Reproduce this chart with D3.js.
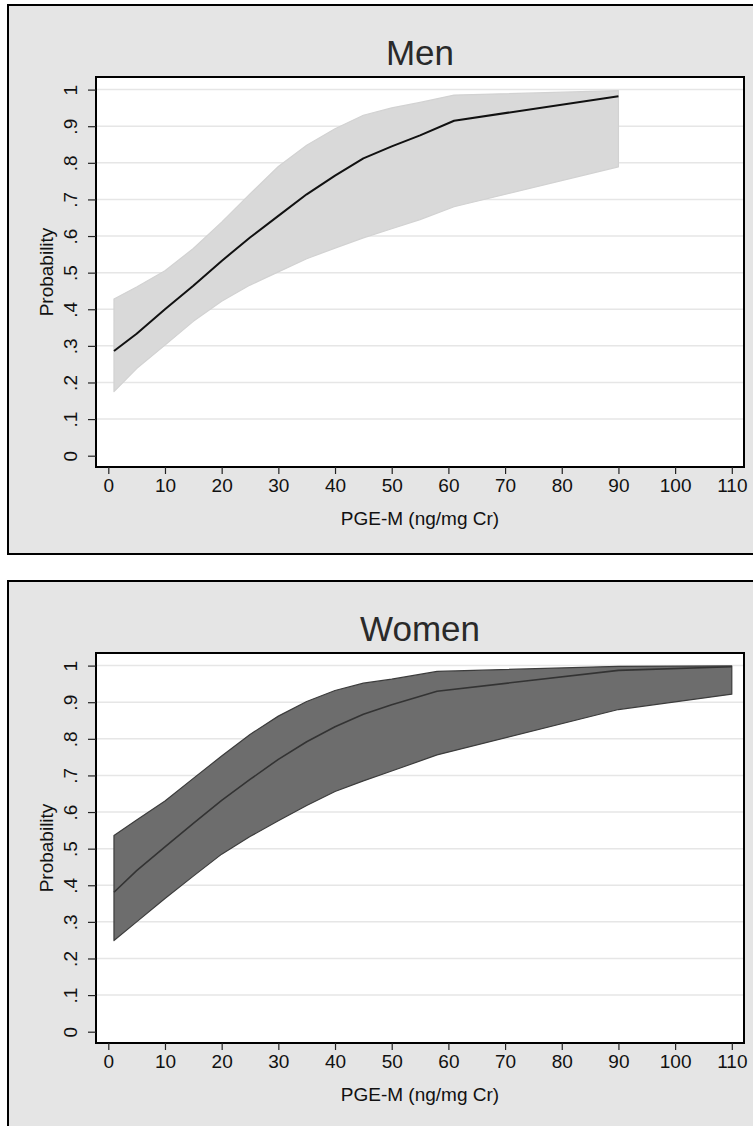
<!DOCTYPE html>
<html>
<head>
<meta charset="utf-8">
<script src="https://cdn.jsdelivr.net/npm/d3@7"></script>
<style>
  body { margin: 0; background: #fff; }
  svg { display: block; font-family: "Liberation Sans", Arial, sans-serif; }
</style>
</head>
<body>
<div id="vis"></div>
<script>
// valores
const menX     = [1, 5, 10, 15, 20, 25, 30, 35, 40, 45, 50, 55, 61, 90];
const menMean  = [0.286, 0.333, 0.400, 0.464, 0.532, 0.596, 0.655, 0.714, 0.765, 0.812, 0.845, 0.875, 0.915, 0.982];
const menUpper = [0.428, 0.461, 0.505, 0.566, 0.638, 0.715, 0.790, 0.848, 0.893, 0.930, 0.950, 0.965, 0.985, 0.997];
const menLower = [0.175, 0.238, 0.302, 0.367, 0.422, 0.466, 0.502, 0.538, 0.567, 0.595, 0.620, 0.645, 0.680, 0.789];

const womenX     = [1, 5, 10, 15, 20, 25, 30, 35, 40, 45, 50, 58, 90, 110];
const womenMean  = [0.381, 0.440, 0.505, 0.569, 0.632, 0.689, 0.744, 0.792, 0.833, 0.867, 0.893, 0.930, 0.987, 0.997];
const womenUpper = [0.536, 0.578, 0.630, 0.692, 0.753, 0.812, 0.862, 0.902, 0.932, 0.952, 0.963, 0.984, 0.998, 0.999];
const womenLower = [0.249, 0.300, 0.364, 0.425, 0.485, 0.533, 0.576, 0.618, 0.656, 0.685, 0.712, 0.756, 0.880, 0.922];

const xTicks = [0, 10, 20, 30, 40, 50, 60, 70, 80, 90, 100, 110];
const yTicks = [0, 0.1, 0.2, 0.3, 0.4, 0.5, 0.6, 0.7, 0.8, 0.9, 1];
const yTickLabels = ["0", ".1", ".2", ".3", ".4", ".5", ".6", ".7", ".8", ".9", "1"];

const WIDTH = 753, HEIGHT = 1126;
const svg = d3.select("#vis").append("svg").attr("width", WIDTH).attr("height", HEIGHT);

const panelH = 549;
const plot = { left: 96, right: 744, top: 72, bottom: 462 }; // relativo al panel
const FONT = "'Liberation Sans', Arial, sans-serif";

function drawPanel(top, title, xs, mean, upper, lower, bandFill, bandStroke, lineColor, lineW) {
  const g = svg.append("g").attr("transform", `translate(0,${top})`);

  g.append("rect")
    .attr("x", 8).attr("y", 0)
    .attr("width", 760).attr("height", panelH)
    .attr("fill", "#e5e5e5").attr("stroke", "#000").attr("stroke-width", 2);

  g.append("text")
    .attr("x", (plot.left + plot.right) / 2).attr("y", 60)
    .attr("text-anchor", "middle")
    .style("font-size", "35px").style("fill", "#2a2a2a")
    .text(title);

  const x = d3.scaleLinear().domain([0, 110]).range([plot.left + 12.3, plot.right - 12.2]);
  const y = d3.scaleLinear().domain([0, 1]).range([plot.bottom - 11.3, plot.top + 12.6]);

  g.append("rect")
    .attr("x", plot.left).attr("y", plot.top)
    .attr("width", plot.right - plot.left).attr("height", plot.bottom - plot.top)
    .attr("fill", "#fff");

  // grid
  g.append("g").selectAll("line").data(yTicks.slice(1)).join("line")
    .attr("x1", plot.left).attr("x2", plot.right)
    .attr("y1", d => y(d)).attr("y2", d => y(d))
    .attr("stroke", "#e6e6e6").attr("stroke-width", 1.5);

  const rows = xs.map((v, i) => ({ x: v, m: mean[i], u: upper[i], l: lower[i] }));

  const area = d3.area()
    .x(d => x(d.x)).y0(d => y(d.l)).y1(d => y(d.u));
  g.append("path").datum(rows)
    .attr("d", area)
    .attr("fill", bandFill)
    .attr("stroke", bandStroke).attr("stroke-width", 1.2)
    .attr("stroke-linejoin", "round");

  const line = d3.line().x(d => x(d.x)).y(d => y(d.m));
  g.append("path").datum(rows)
    .attr("d", line)
    .attr("fill", "none")
    .attr("stroke", lineColor).attr("stroke-width", lineW)
    .attr("stroke-linejoin", "round");

  // marco del gráfico
  g.append("rect")
    .attr("x", plot.left).attr("y", plot.top)
    .attr("width", plot.right - plot.left).attr("height", plot.bottom - plot.top)
    .attr("fill", "none").attr("stroke", "#000").attr("stroke-width", 2);

  // eje x
  const xAxis = g.append("g").attr("transform", `translate(0,${plot.bottom})`)
    .call(d3.axisBottom(x).tickValues(xTicks).tickSize(7).tickPadding(5).tickFormat(d3.format("d")));
  xAxis.select(".domain").remove();
  xAxis.selectAll(".tick line").attr("stroke", "#222").attr("stroke-width", 1.2);
  xAxis.selectAll(".tick text")
    .style("font-size", "19px").style("fill", "#111").style("font-family", FONT);

  // eje y
  const yAxis = g.append("g").attr("transform", `translate(${plot.left},0)`)
    .call(d3.axisLeft(y).tickValues(yTicks).tickSize(8).tickFormat((d, i) => yTickLabels[i]));
  yAxis.select(".domain").remove();
  yAxis.selectAll(".tick line").attr("stroke", "#222").attr("stroke-width", 1.2);
  yAxis.selectAll(".tick text")
    .attr("x", -26).attr("y", 0).attr("dy", null)
    .attr("transform", "rotate(-90,-26,0)")
    .attr("text-anchor", "middle").attr("dominant-baseline", "central")
    .style("font-size", "19px").style("fill", "#111").style("font-family", FONT);

  g.append("text")
    .attr("transform", `translate(46,${(plot.top + plot.bottom) / 2}) rotate(-90)`)
    .attr("text-anchor", "middle").attr("dominant-baseline", "central")
    .style("font-size", "19px").style("fill", "#111")
    .text("Probability");

  g.append("text")
    .attr("x", (plot.left + plot.right) / 2).attr("y", 520)
    .attr("text-anchor", "middle")
    .style("font-size", "19px").style("fill", "#111")
    .text("PGE-M (ng/mg Cr)");
}

drawPanel(5, "Men", menX, menMean, menUpper, menLower, "#d9d9d9", "#d2d2d2", "#111", 2);
drawPanel(581, "Women", womenX, womenMean, womenUpper, womenLower, "#6d6d6d", "#3c3c3c", "#333", 1.6);
</script>
</body>
</html>
